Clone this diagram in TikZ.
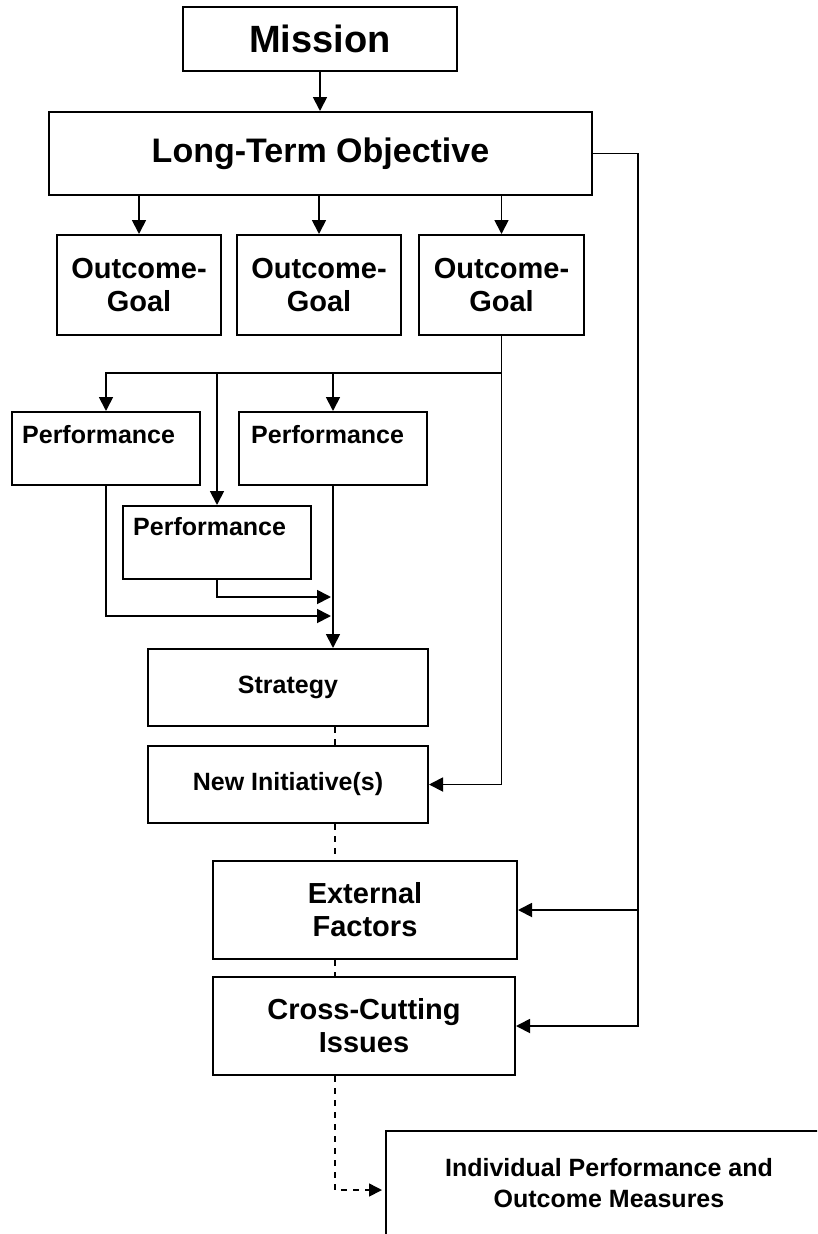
\documentclass[tikz,border=0pt]{standalone}
\usepackage{fontspec}
\setmainfont{Liberation Sans}
\usetikzlibrary{arrows.meta}
\begin{document}
\begin{tikzpicture}[x=1pt,y=-1pt,
  box/.style={draw=black,line width=2pt,fill=white,inner sep=0pt,align=center},
  fA/.style={font=\fontsize{38}{44}\selectfont\bfseries},
  fB/.style={font=\fontsize{34}{40}\selectfont\bfseries},
  fC/.style={font=\fontsize{29}{33}\selectfont\bfseries},
  fD/.style={font=\fontsize{25}{31.5}\selectfont\bfseries},
  conn/.style={draw=black,line width=1.8pt},
  arr/.style={conn,-{Triangle[length=14pt,width=14pt]}},
  dsh/.style={draw=black,line width=1.6pt,dash pattern=on 6pt off 6pt},
  perflabel/.style={anchor=north west,inner sep=0pt,font=\fontsize{25}{30}\selectfont\bfseries}
]
\useasboundingbox (0,0) rectangle (817,1234);
\clip (0,0) rectangle (817,1234);

% nodes
\node[box,fA,minimum width=274pt,minimum height=64pt] (mission) at (320,39) {Mission};
\node[box,fB,minimum width=543pt,minimum height=83pt] (lto) at (320.5,153.5) {Long-Term Objective};
\node[box,fC,minimum width=164pt,minimum height=100pt] (og1) at (139,285) {Outcome-\\Goal};
\node[box,fC,minimum width=164pt,minimum height=100pt] (og2) at (319,285) {Outcome-\\Goal};
\node[box,fC,minimum width=165pt,minimum height=100pt] (og3) at (501.5,285) {Outcome-\\Goal};

\node[box,minimum width=188pt,minimum height=73pt,
  label={[perflabel,xshift=11pt,yshift=-14pt]north west:Performance}] (p1) at (106,448.5) {};
\node[box,minimum width=188pt,minimum height=73pt,
  label={[perflabel,xshift=13pt,yshift=-14pt]north west:Performance}] (p2) at (333,448.5) {};
\node[box,minimum width=188pt,minimum height=73pt,
  label={[perflabel,xshift=11pt,yshift=-12pt]north west:Performance}] (p3) at (217,542.5) {};

\node[box,fD,minimum width=280pt,minimum height=77pt] (st) at (288,687.5) {Strategy};
\node[box,fD,minimum width=280pt,minimum height=77pt] (ni) at (288,784.5) {New Initiative(s)};
\node[box,fC,minimum width=304pt,minimum height=98pt] (ef) at (365,910) {External\\Factors};
\node[box,fC,minimum width=302pt,minimum height=98pt] (cc) at (364,1026) {Cross-Cutting\\Issues};
\node[box,fD,minimum width=446pt,minimum height=104pt] (ind) at (609,1183) {Individual Performance and\\Outcome Measures};

% helper coordinates
\coordinate (bus) at (0,373);
\coordinate (rbus) at (638,0);
\coordinate (dx) at (335,0);
\coordinate (m1) at (331,616);
\coordinate (m3) at (331,597);

% connectors
\draw[arr] (mission.south) -- (mission.south |- lto.north);
\draw[arr] (og1.north |- lto.south) -- (og1.north);
\draw[arr] (og2.north |- lto.south) -- (og2.north);
\draw[arr] (og3.north |- lto.south) -- (og3.north);

\draw[arr] (lto.east) -| (rbus |- cc.east) -- (cc.east);
\draw[arr] (rbus |- ef.east) -- (ef.east);

\draw[arr] (og3.south) |- (ni.east);
\draw[arr] (og3.south |- bus) -| (p1.north);
\draw[arr] (p3.north |- bus) -- (p3.north);
\draw[arr] (p2.north |- bus) -- (p2.north);

\draw[arr] (p1.south) |- (m1);
\draw[arr] (p3.south) |- (m3);
\draw[arr] (p2.south) -- (p2.south |- st.north);

\draw[dsh] (dx |- st.south) -- (dx |- ni.north);
\draw[dsh] (dx |- ni.south) -- (dx |- ef.north);
\draw[dsh] (dx |- ef.south) -- (dx |- cc.north);
\draw[dsh,-{Triangle[length=13pt,width=13pt]}] (dx |- cc.south) |- ([yshift=-7pt,xshift=-3pt]ind.west);
\end{tikzpicture}
\end{document}
